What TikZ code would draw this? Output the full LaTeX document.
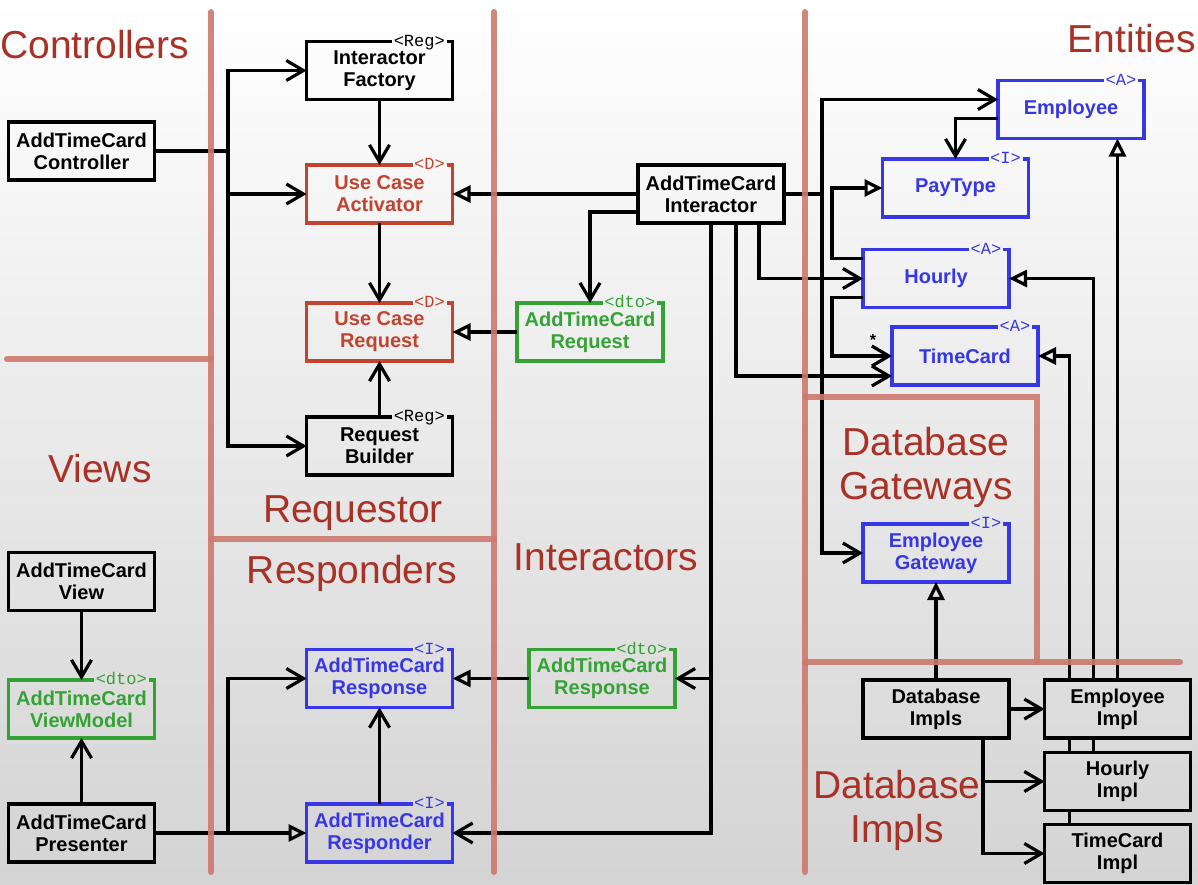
\documentclass[tikz,border=0pt]{standalone}
\usepackage{fontspec}
\setmainfont{Liberation Sans}
\setmonofont{Liberation Mono}
\usetikzlibrary{arrows.meta}

\definecolor{sectred}{RGB}{168,50,38}
\definecolor{sepred}{RGB}{205,122,110}
\definecolor{ucred}{RGB}{192,68,48}
\definecolor{dtogreen}{RGB}{52,162,52}
\definecolor{entblue}{RGB}{55,55,228}

% box with a stereotype sitting in its top border
\newcommand{\stbox}[5]{%
  \node[box, text=#3] (#1) at (#2) {#5};
  \node[stereo, text=#3, anchor=east] (#1-st) at ([xshift=-6pt]#1.north east) {#4};
  \draw[boxline, draw=#3] (#1-st.east) -| (#1.south east) -| (#1.north west) -- (#1-st.west);
}

\begin{document}
\begin{tikzpicture}[x=1pt,y=-1pt,
  box/.style={minimum width=146pt,minimum height=58pt,inner sep=0pt,outer sep=0pt,align=center,
    font=\bfseries\fontsize{20}{22}\selectfont,line width=3.4pt},
  boxline/.style={line width=3.4pt},
  stereo/.style={font=\ttfamily\fontsize{17}{17}\selectfont,inner xsep=1.5pt,inner ysep=0pt,
    text height=9pt,text depth=0pt},
  sect/.style={text=sectred,font=\fontsize{39}{44}\selectfont,align=center,inner sep=0pt},
  sep/.style={draw=sepred,line width=6pt,line cap=round,opacity=0.9},
  link/.style={line width=3.2pt},
  vee/.style={link,-{Straight Barb[length=17pt,width=20pt]}},
  tri/.style={link,-{Triangle[open,length=18pt,width=17pt]}},
  ]

  \shade[top color=white,middle color=white,bottom color=black!17] (0,0) rectangle (1198,884);
  \useasboundingbox (0,0) rectangle (1198,884);

  % requestor side
  \stbox{fac}{379.5,70.5}{black}{<Reg>}{Interactor\\Factory}
  \node[box,draw] (ctrl) at (81.5,151) {AddTimeCard\\Controller};
  \stbox{act}{379.5,194}{ucred}{<D>}{Use Case\\Activator}
  \stbox{ucreq}{379.5,332}{ucred}{<D>}{Use Case\\Request}
  \stbox{bld}{379.5,446}{black}{<Reg>}{Request\\Builder}
  \node[box,draw] (intr) at (711,194) {AddTimeCard\\Interactor};
  \stbox{reqdto}{590,332}{dtogreen}{<dto>}{AddTimeCard\\Request}

  % entities and gateways
  \stbox{emp}{1071,109.5}{entblue}{<A>}{Employee}
  \stbox{ptype}{955.5,188}{entblue}{<I>}{PayType}
  \stbox{hrly}{936,278.5}{entblue}{<A>}{Hourly}
  \stbox{tcard}{965,356}{entblue}{<A>}{TimeCard}
  \stbox{gw}{936,553}{entblue}{<I>}{Employee\\Gateway}
  \node[box,draw] (dbi) at (936,709) {Database\\Impls};
  \node[box,draw] (eimpl) at (1117.5,709) {Employee\\Impl};
  \node[box,draw] (himpl) at (1117.5,781.5) {Hourly\\Impl};
  \node[box,draw] (tcimpl) at (1117.5,853.5) {TimeCard\\Impl};

  % views and responders
  \node[box,draw] (view) at (81.5,581.5) {AddTimeCard\\View};
  \stbox{vm}{81.5,709}{dtogreen}{<dto>}{AddTimeCard\\ViewModel}
  \node[box,draw] (pres) at (81.5,833) {AddTimeCard\\Presenter};
  \stbox{resp}{379.5,678.5}{entblue}{<I>}{AddTimeCard\\Response}
  \stbox{rspdr}{379.5,833}{entblue}{<I>}{AddTimeCard\\Responder}
  \stbox{respdto}{602,678.5}{dtogreen}{<dto>}{AddTimeCard\\Response}

  \coordinate (cbus) at (228,0);
  \coordinate (ebus) at (822,0);

  \draw[vee] (ctrl.east) -- (ctrl.east -| cbus) |- (fac.west);
  \draw[vee] (ctrl.east) -- (ctrl.east -| cbus) |- (act.west);
  \draw[vee] (ctrl.east) -- (ctrl.east -| cbus) |- (bld.west);
  \draw[vee] (fac) -- (act);
  \draw[vee] (act) -- (ucreq);
  \draw[vee] (bld) -- (ucreq);
  \draw[tri] (intr) -- (act);
  \draw[vee] ([yshift=-18pt]intr.west) -| (reqdto.north);
  \draw[tri] (reqdto) -- (ucreq);
  \draw[vee] (intr.south) |- (respdto.east);
  \draw[vee] (intr.south) |- (rspdr.east);
  \draw[tri] (respdto) -- (resp);
  \draw[vee] (rspdr) -- (resp);
  \draw[tri] (pres) -- (rspdr);
  \draw[vee] (pres.east) -- (pres.east -| cbus) |- (resp.west);
  \draw[vee] (view) -- (vm);
  \draw[vee] (pres) -- (vm);

  \draw[vee] (intr.east) -- (intr.east -| ebus) |- ([yshift=10pt]emp.west);
  \draw[vee] (intr.east) -- (intr.east -| ebus) |- (gw.west);
  \draw[vee] ([xshift=48pt]intr.south) |- (hrly.west);
  \draw[vee] ([xshift=25pt]intr.south) |- ([yshift=-20pt]tcard.west);
  \draw[vee] ([yshift=-9pt]emp.west) -| (ptype.north);
  \draw[tri] ([yshift=20pt]hrly.west) -- ++(-31,0) |- (ptype.west);
  \draw[vee] ([yshift=-19pt]hrly.west) -- ++(-31,0) |- (tcard.west);
  \node[font=\bfseries\fontsize{16}{16}\selectfont,inner sep=0pt] (star) at (873,340) {*};

  \draw[tri] (eimpl.north) -- (eimpl.north |- emp.south);
  \draw[link] ([xshift=-24pt]himpl.north) -- ([xshift=-24pt]eimpl.south);
  \draw[tri] ([xshift=-24pt]eimpl.north) |- (hrly.east);
  \draw[link] ([xshift=-48pt]tcimpl.north) -- ([xshift=-48pt]himpl.south);
  \draw[link] ([xshift=-48pt]himpl.north) -- ([xshift=-48pt]eimpl.south);
  \draw[tri] ([xshift=-48pt]eimpl.north) |- (tcard.east);
  \draw[tri] (dbi) -- (gw);
  \draw[vee] (dbi) -- (eimpl);
  \draw[vee] ([xshift=47pt]dbi.south) |- (himpl.west);
  \draw[vee] ([xshift=47pt]dbi.south) |- (tcimpl.west);

  % layer boundaries
  \draw[sep] (211,12) -- (211,872);
  \draw[sep] (494,12) -- (494,872);
  \draw[sep] (805,12) -- (805,872);
  \draw[sep] (7,359) -- (211,359);
  \draw[sep] (211,539) -- (494,539);
  \draw[sep] (805,397) -- (1037,397) -- (1037,662);
  \draw[sep] (805,662) -- (1180,662);

  \node[sect,anchor=base west] (lctrl) at (0,58) {Controllers};
  \node[sect,anchor=base east] (lent) at (1196,52) {Entities};
  \node[sect,anchor=base] (lviews) at (100,482) {Views};
  \node[sect,anchor=base] (lreq) at (353,522) {Requestor};
  \node[sect,anchor=base] (lresp) at (352,583) {Responders};
  \node[sect,anchor=base] (lint) at (606,570) {Interactors};
  \node[sect] (lgw) at (926,467) {Database\\Gateways};
  \node[sect] (limpl) at (897,810) {Database\\Impls};
\end{tikzpicture}
\end{document}
